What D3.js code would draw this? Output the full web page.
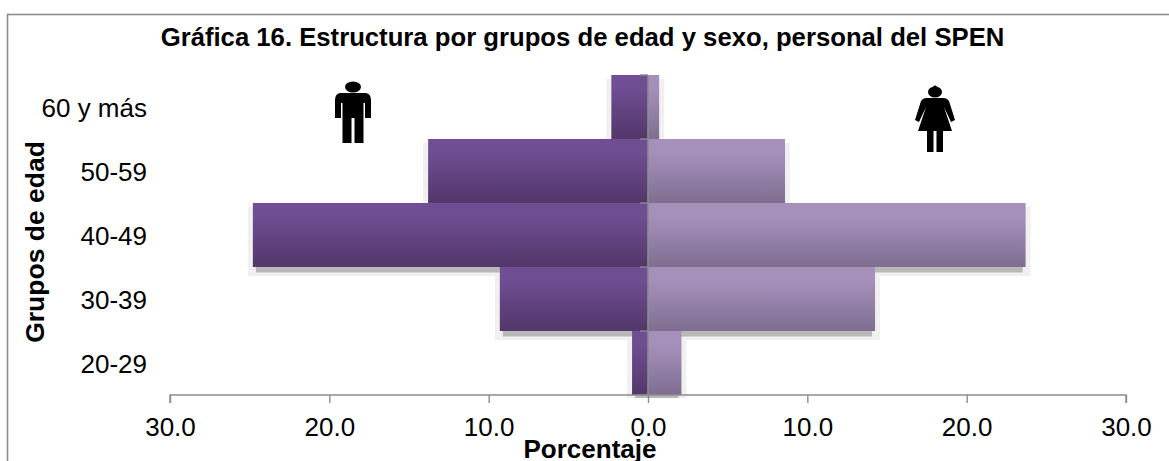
<!DOCTYPE html>
<html><head><meta charset="utf-8">
<script src="https://cdn.jsdelivr.net/npm/d3@7/dist/d3.min.js"></script>
<style>html,body{margin:0;padding:0;background:#fff}svg{display:block}text{font-family:"Liberation Sans",Arial,sans-serif;fill:#000}</style>
</head><body><svg id="c" width="1169" height="461"></svg>
<script>
const ageGroups = ["60 y más","50-59","40-49","30-39","20-29"];
const men = [2.3,13.8,24.8,9.3,1.0];
const women = [0.7,8.6,23.7,14.25,2.1];
const xTicks = [-30,-20,-10,0,10,20,30];
const titleText = "Gráfica 16. Estructura por grupos de edad y sexo, personal del SPEN";
const svg = d3.select("#c");
const x = d3.scaleLinear().domain([-30,30]).range([170,1126]);
const y = d3.scaleBand().domain(ageGroups).range([75,395]).padding(0);
const defs = svg.append("defs");
function grad(id,a,b){const g=defs.append("linearGradient").attr("id",id).attr("x1",0).attr("x2",0).attr("y1",0).attr("y2",1);
 g.append("stop").attr("offset","0%").attr("stop-color",a);
 g.append("stop").attr("offset","20%").attr("stop-color",a);
 g.append("stop").attr("offset","100%").attr("stop-color",b);}
grad("gm","#6f4e94","#523769");
grad("gw","#a590bb","#7f6e91");
defs.append("filter").attr("id","blur").append("feGaussianBlur").attr("stdDeviation",0.6);
defs.append("clipPath").attr("id","sc").append("rect").attr("x",0).attr("y",0).attr("width",1169).attr("height",398);
svg.append("rect").attr("x",7.5).attr("y",14.5).attr("width",1200).attr("height",480).attr("fill","#fff").attr("stroke","#8c8c8c").attr("stroke-width",1.6);
const rows = ageGroups.map((g,i)=>({g,m:men[i],w:women[i]}));
// soft shadows
const sh = svg.append("g").attr("clip-path","url(#sc)").attr("filter","url(#blur)");
sh.selectAll("rect.o").data(rows).join("rect").attr("class","o")
 .attr("x",d=>x(-d.m)-5).attr("y",d=>y(d.g)+4).attr("width",d=>x(d.w)-x(-d.m)+10).attr("height",y.bandwidth()+5)
 .attr("fill","#f0f0f0");
sh.selectAll("rect.i").data(rows).join("rect").attr("class","i")
 .attr("x",d=>x(-d.m)+3).attr("y",d=>y(d.g)+y.bandwidth()).attr("width",d=>x(d.w)-x(-d.m)-6).attr("height",5.5)
 .attr("fill","#b8b8b8");
svg.append("g").selectAll("rect").data(rows).join("rect")
 .attr("x",d=>x(-d.m)).attr("y",d=>y(d.g)).attr("width",d=>x(0)-x(-d.m)).attr("height",y.bandwidth()).attr("fill","url(#gm)");
svg.append("g").selectAll("rect").data(rows).join("rect")
 .attr("x",x(0)).attr("y",d=>y(d.g)).attr("width",d=>x(d.w)-x(0)).attr("height",y.bandwidth()).attr("fill","url(#gw)");
const line="#8c8c8c";
const ax = svg.append("g").attr("transform","translate(0,395)")
 .call(d3.axisBottom(x).tickValues(xTicks).tickFormat(d=>Math.abs(d).toFixed(1)).tickSize(8).tickPadding(3));
ax.selectAll("path").attr("stroke",line).attr("stroke-width",1.4).attr("d","M170,8V0H1126V8");
ax.selectAll("line").attr("stroke",line).attr("stroke-width",1.4);
ax.selectAll("text").attr("font-size",26).attr("dy",null).attr("y",41);
const ay = svg.append("g").attr("transform",`translate(${x(0)},0)`).call(d3.axisLeft(y).tickSize(0).tickPadding(0));
ay.select("path").attr("stroke",line).attr("stroke-width",1.6).attr("d","M0,75V395");
ay.selectAll("text").remove();
svg.append("g").selectAll("line").data(d3.range(0,ageGroups.length+1)).join("line")
 .attr("x1",x(0)-8).attr("x2",x(0)).attr("y1",i=>75+i*y.step()).attr("y2",i=>75+i*y.step())
 .attr("stroke",line).attr("stroke-width",1.4);
svg.append("g").selectAll("text").data(ageGroups).join("text")
 .attr("x",147).attr("y",d=>y(d)+y.bandwidth()/2+10).attr("text-anchor","end").attr("font-size",26).text(d=>d);
svg.append("text").attr("x",582.5).attr("y",46).attr("text-anchor","middle").attr("font-size",25.7).attr("font-weight","bold").text(titleText);
svg.append("text").attr("x",590).attr("y",458).attr("text-anchor","middle").attr("font-size",26).attr("font-weight","bold").text("Porcentaje");
svg.append("text").attr("transform","translate(44,242) rotate(-90)").attr("text-anchor","middle").attr("font-size",26.5).attr("font-weight","bold").text("Grupos de edad");
// icons
const man = svg.append("g").attr("transform","translate(353,0)").attr("fill","#000");
man.append("ellipse").attr("cx",0).attr("cy",87).attr("rx",8).attr("ry",5.5);
man.append("path").attr("d","M-13,93H13Q18,94 18,100V118H12V103H10.5V143H1.5V118H-1.5V143H-10.5V103H-12V118H-18V100Q-18,94 -13,93Z");
const woman = svg.append("g").attr("transform","translate(935,0)").attr("fill","#000");
woman.append("ellipse").attr("cx",0).attr("cy",92).attr("rx",7).attr("ry",5.5);
woman.append("ellipse").attr("cx",0).attr("cy",87).attr("rx",2).attr("ry",1.5);
woman.append("path").attr("d","M-9,98H9Q12,98 14,101L20,120L16,122L9,107L17,131H8V152H1.5V131H-1.5V152H-8V131H-17L-9,107L-16,122L-20,120L-14,101Q-12,98 -9,98Z");
</script></body></html>
